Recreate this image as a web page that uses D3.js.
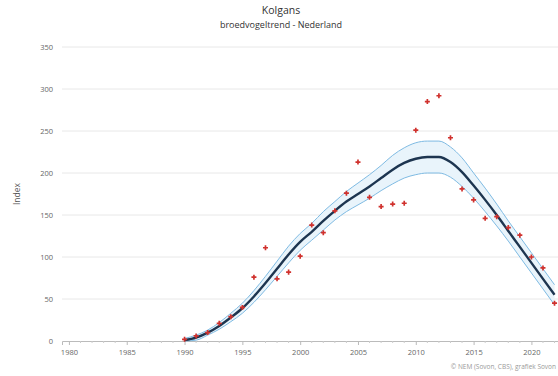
<!DOCTYPE html>
<html>
<head>
<meta charset="utf-8">
<script src="https://cdn.jsdelivr.net/npm/d3@7"></script>
<style>
  html, body { margin: 0; padding: 0; background: #fff; }
  svg { display: block; font-family: "Open Sans", "Liberation Sans", sans-serif; }
</style>
</head>
<body>
<svg id="chart" width="558" height="376"></svg>
<script>
// Yearly index values, Kolgans breeding-bird trend (base 100)
const years = d3.range(1990, 2023);
const indexValues = [2, 6, 10, 21, 29, 40, 76, 111, 74, 82, 101, 138, 129, 155, 176, 213, 171, 160, 163, 164,
                     251, 285, 292, 242, 181, 168, 146, 148, 135, 126, 100, 87, 45];
const trendValues = [1, 4, 10, 18, 28, 39, 53, 69, 86, 103, 118, 130, 143, 155, 166, 175, 184, 194, 204, 212,
                     217, 219, 219, 213, 201, 185, 168, 150, 131, 112, 93, 74, 55];
const upperValues = [3, 7, 13, 22, 33, 45, 60, 77, 95, 113, 128, 140, 154, 166, 178, 188, 198, 209, 221, 230,
                     236, 238, 238, 231, 218, 200, 182, 163, 143, 124, 105, 86, 67];
const lowerValues = [0, 1, 7, 14, 23, 33, 46, 61, 77, 93, 108, 120, 132, 144, 154, 162, 170, 179, 187, 194,
                     198, 200, 200, 195, 184, 170, 154, 137, 119, 100, 81, 62, 43];
const xTicks = [1980, 1985, 1990, 1995, 2000, 2005, 2010, 2015, 2020];
const yTicks = [0, 50, 100, 150, 200, 250, 300, 350];

const svg = d3.select("#chart");
const x = d3.scaleLinear().domain([1979.4, 2022.3]).range([62, 558]);
const y = d3.scaleLinear().domain([0, 350]).range([341, 47]);

// Titles
svg.append("text").attr("x", 281).attr("y", 14).attr("text-anchor", "middle")
  .attr("font-size", 10.5).attr("fill", "#333").text("Kolgans");
svg.append("text").attr("x", 281).attr("y", 28).attr("text-anchor", "middle")
  .attr("font-size", 9).attr("fill", "#333").text("broedvogeltrend - Nederland");

// Horizontal grid lines
svg.append("g").selectAll("line").data(yTicks.filter(d => d > 0)).join("line")
  .attr("x1", 62).attr("x2", 558)
  .attr("y1", d => y(d)).attr("y2", d => y(d))
  .attr("stroke", "#e8e8e8").attr("stroke-width", 1);

// Y axis (labels only)
const yAxis = svg.append("g").attr("transform", "translate(62,0)")
  .call(d3.axisLeft(y).tickValues(yTicks).tickSize(0).tickPadding(9));
yAxis.select(".domain").remove();
yAxis.selectAll("text").attr("font-size", 7.5).attr("fill", "#666")
  .attr("font-family", "'Open Sans', sans-serif");

svg.append("text").attr("transform", "translate(20,194) rotate(-90)")
  .attr("text-anchor", "middle").attr("font-size", 8.5).attr("fill", "#555").text("Index");

// X axis
const xAxis = svg.append("g").attr("transform", "translate(0,341)")
  .call(d3.axisBottom(x).tickValues(xTicks).tickFormat(d3.format("d")).tickSize(4).tickPadding(5));
xAxis.select(".domain").attr("stroke", "#bbb");
xAxis.selectAll(".tick line").attr("stroke", "#bbb");
xAxis.selectAll("text").attr("font-size", 7.5).attr("fill", "#666")
  .attr("font-family", "'Open Sans', sans-serif");
svg.append("g").selectAll("line").data(d3.range(1980, 2023).filter(d => d % 5 !== 0)).join("line")
  .attr("x1", d => x(d)).attr("x2", d => x(d)).attr("y1", 341).attr("y2", 343)
  .attr("stroke", "#ccc");

// Confidence band
const band = years.map((yr, i) => ({ yr, lo: lowerValues[i], hi: upperValues[i], t: trendValues[i] }));
svg.append("path").datum(band)
  .attr("d", d3.area().curve(d3.curveMonotoneX).x(d => x(d.yr)).y0(d => y(d.lo)).y1(d => y(d.hi)))
  .attr("fill", "#e9f4fb");
["lo", "hi"].forEach(k => {
  svg.append("path").datum(band)
    .attr("d", d3.line().curve(d3.curveMonotoneX).x(d => x(d.yr)).y(d => y(d[k])))
    .attr("fill", "none").attr("stroke", "#7fbbe3").attr("stroke-width", 1);
});

// Trend line
svg.append("path").datum(band)
  .attr("d", d3.line().curve(d3.curveMonotoneX).x(d => x(d.yr)).y(d => y(d.t)))
  .attr("fill", "none").attr("stroke", "#1d3550").attr("stroke-width", 2.4);

// Yearly index points
svg.append("g").selectAll("path").data(years.map((yr, i) => ({ yr, v: indexValues[i] }))).join("path")
  .attr("transform", d => `translate(${x(d.yr)},${y(d.v)})`)
  .attr("d", d3.symbol().type(d3.symbolCross).size(14))
  .attr("fill", "#d0312d");

// Source note
svg.append("text").attr("x", 556).attr("y", 369).attr("text-anchor", "end")
  .attr("font-size", 6.5).attr("fill", "#999").text("© NEM (Sovon, CBS), grafiek Sovon");
</script>
</body>
</html>
